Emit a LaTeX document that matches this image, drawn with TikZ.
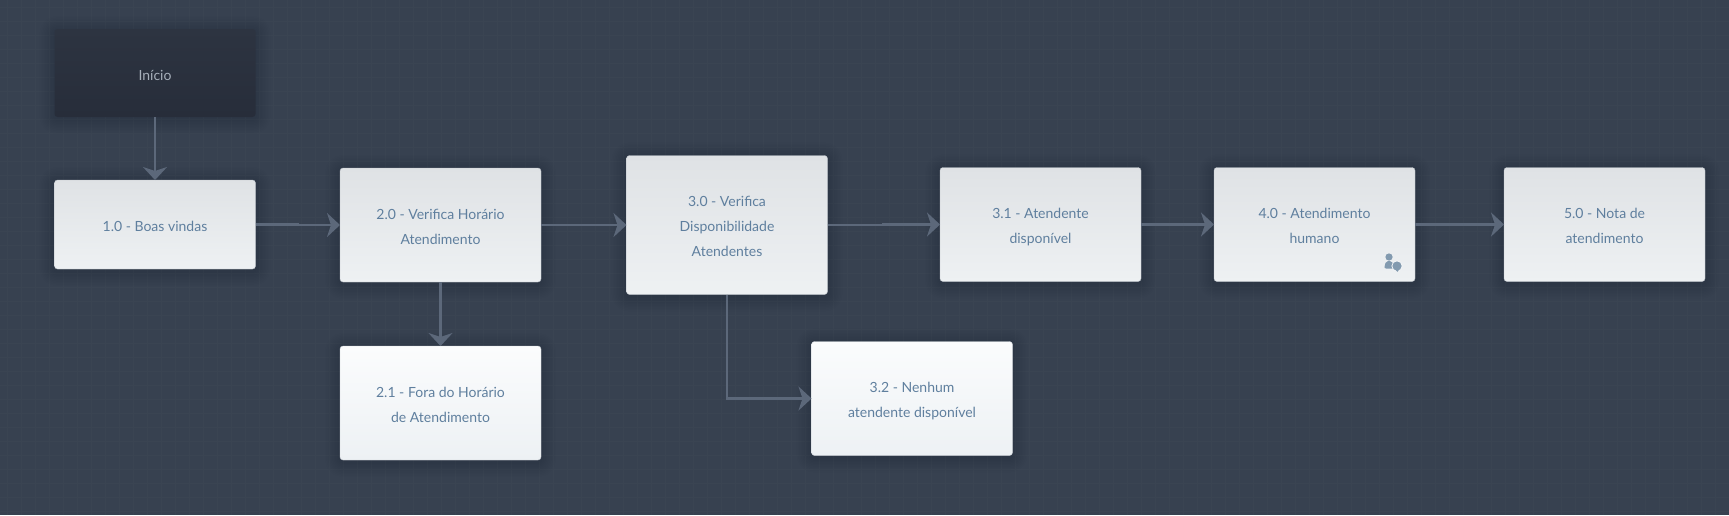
\documentclass[tikz,border=0pt]{standalone}
\usepackage{fontspec}
\setmainfont{Lato}
\usetikzlibrary{arrows.meta,calc}
\definecolor{bgc}{HTML}{374150}
\definecolor{gridc}{HTML}{3A4452}
\definecolor{linkc}{HTML}{5C687A}
\definecolor{textc}{HTML}{5F7F9E}
\definecolor{darktext}{HTML}{A7B0BB}
\definecolor{iconc}{HTML}{829AAF}
\definecolor{cardtop}{HTML}{DFE2E5}
\definecolor{cardbot}{HTML}{EEF1F3}
\definecolor{cardedge}{HTML}{B8BEC5}
\definecolor{lighttop}{HTML}{FBFCFD}
\definecolor{lightbot}{HTML}{EDF1F4}
\definecolor{lightedge}{HTML}{C8CDD3}
\definecolor{darktop}{HTML}{2D3441}
\definecolor{darkbot}{HTML}{272D3A}
\tikzset{
  shadowring/.style={preaction={draw=black,draw opacity=.013,line width=#1,line join=round,transform canvas={yshift=-2pt}}},
  softshadow/.style={shadowring=30pt,shadowring=27pt,shadowring=24pt,shadowring=21pt,shadowring=18pt,
    shadowring=15pt,shadowring=12pt,shadowring=9pt,shadowring=6pt,shadowring=3pt},
  cardbase/.style={rectangle,rounded corners=3pt,minimum width=201pt,inner sep=0pt,outer sep=0pt,
    align=center,font=\fontsize{14}{25}\selectfont,softshadow,
    execute at begin node={\rule{0pt}{18pt}},execute at end node={\rule[-4pt]{0pt}{4pt}}},
  multiline/.style={execute at begin node={\rule{0pt}{#1}}},
  card/.style={cardbase,top color=cardtop,bottom color=cardbot,text=textc,draw=cardedge,line width=.4pt},
  lightcard/.style={cardbase,top color=lighttop,bottom color=lightbot,text=textc,draw=lightedge,line width=.4pt},
  startcard/.style={cardbase,top color=darktop,bottom color=darkbot,text=darktext},
  conn/.style={draw=linkc,line width=2.6pt,-{Stealth[length=13pt,width=24pt,inset=4pt]}},
  gridline/.style={draw=gridc,line width=.5pt}
}
\begin{document}
\begin{tikzpicture}[x=1pt,y=-1pt]
\fill[bgc] (0,0) rectangle (1729,515);
\useasboundingbox (0,0) rectangle (1729,515);
\foreach \gx in {7,21,...,1729} \draw[gridline] (\gx,0) -- (\gx,515);
\foreach \gy in {7,21,...,515} \draw[gridline] (0,\gy) -- (1729,\gy);

\node[startcard,minimum height=88pt] (start) at (155,73) {Início};
\node[card,minimum height=89pt] (n10) at (155,224.5) {1.0 - Boas vindas};
\node[card,multiline=42pt,minimum height=114pt] (n20) at (440.5,225) {2.0 - Verifica Horário\\Atendimento};
\node[lightcard,multiline=42pt,minimum height=114pt] (n21) at (440.5,403) {2.1 - Fora do Horário\\de Atendimento};
\node[card,multiline=66pt,minimum height=139pt] (n30) at (727,225) {3.0 - Verifica\\Disponibilidade\\Atendentes};
\node[lightcard,multiline=42pt,minimum height=114pt] (n32) at (912,398.5) {3.2 - Nenhum\\atendente disponível};
\node[card,multiline=42pt,minimum height=114pt] (n31) at (1040.5,224.5) {3.1 - Atendente\\disponível};
\node[card,multiline=42pt,minimum height=114pt] (n40) at (1314.5,224.5) {4.0 - Atendimento\\humano};
\node[card,multiline=42pt,minimum height=114pt] (n50) at (1604.5,224.5) {5.0 - Nota de\\atendimento};

\coordinate (j1) at ($(n10.east)!.5!(n20.west)$);
\coordinate (j2) at ($(n30.east)!.5!(n31.west)$);
\draw[conn] (start.south) -- (n10.north);
\draw[conn] (n10.east) -- (j1 |- n10.east) -- (j1 |- n20.west) -- (n20.west);
\draw[conn] (n20.east) -- (n30.west);
\draw[conn] (n20.south) -- (n21.north);
\draw[conn] (n30.south) |- (n32.west);
\draw[conn] (n30.east) -- (j2 |- n30.east) -- (j2 |- n31.west) -- (n31.west);
\draw[conn] (n31.east) -- (n40.west);
\draw[conn] (n40.east) -- (n50.west);

% person and chat icon
\fill[iconc] (1389,257) circle (3.6pt);
\fill[iconc,rounded corners=2pt] (1384,268.5) -- (1386,261) -- (1392,261) -- (1395,268.5) -- cycle;
\fill[white!90!iconc] (1397,266) circle (5.6pt);
\fill[iconc] (1397,266) circle (4.6pt);
\fill[iconc] (1394.5,269) -- (1399.5,269) -- (1397.5,271.8) -- cycle;
\end{tikzpicture}
\end{document}
